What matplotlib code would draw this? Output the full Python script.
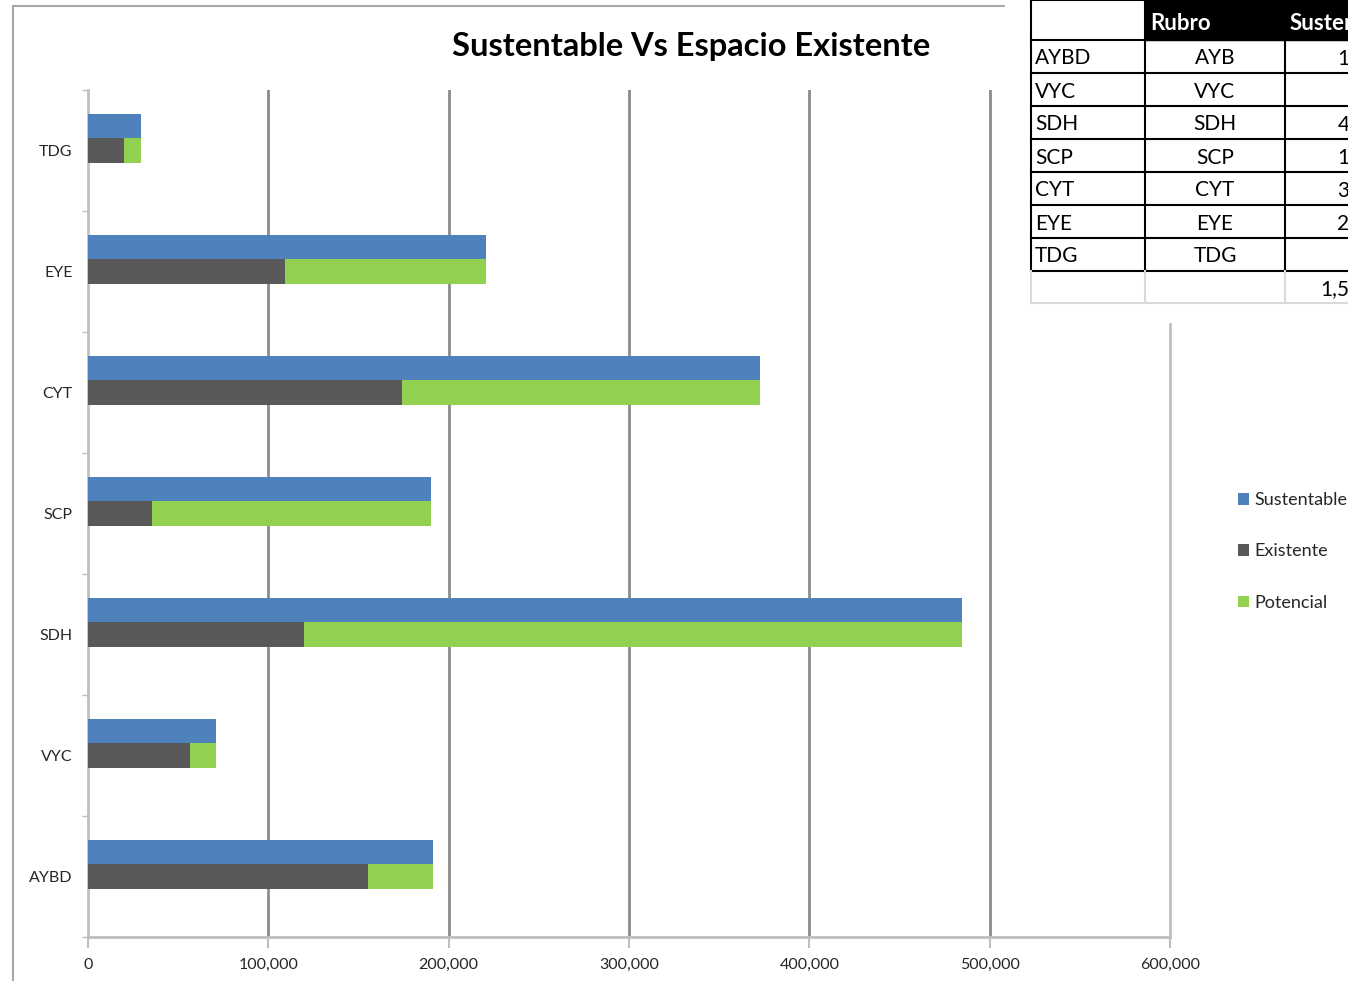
import numpy as np
import matplotlib as mpl
import matplotlib.pyplot as plt
from matplotlib.patches import Rectangle
from matplotlib.lines import Line2D
from matplotlib.ticker import FuncFormatter

plt.rcParams['font.family'] = ['Lato', 'DejaVu Sans']

# data (bottom to top)
rubros = ['AYBD', 'VYC', 'SDH', 'SCP', 'CYT', 'EYE', 'TDG']
rubros_tabla = ['AYB', 'VYC', 'SDH', 'SCP', 'CYT', 'EYE', 'TDG']
sustentable = [191300, 71000, 484700, 190000, 372700, 220700, 29500]
existente = [155000, 56600, 120000, 35500, 174000, 109000, 20000]
potencial = [s - e for s, e in zip(sustentable, existente)]

c_sus = '#4f81bd'
c_exi = '#595959'
c_pot = '#92d050'
c_grid = '#8c8c8c'
c_axis = '#bfbfbf'

W, H = 1348, 981
fig = plt.figure(figsize=(W/100., H/100.), dpi=100)

def fx(px): return px / W
def fy(py): return 1. - py / H

# chart frame
fig.add_artist(Line2D([fx(13), fx(13)], [fy(6), fy(981)], color='#a6a6a6', lw=1.5))
fig.add_artist(Line2D([fx(13), fx(1348)], [fy(6), fy(6)], color='#a6a6a6', lw=1.5))

ax = fig.add_axes([fx(88), fy(937), fx(1170) - fx(88), fy(90) - fy(937)])
y = np.arange(len(rubros))
h = 0.2
ax.barh(y + h, sustentable, height=h, color=c_sus, label='Sustentable', zorder=3)
ax.barh(y, existente, height=h, color=c_exi, label='Existente', zorder=3)
ax.barh(y, potencial, left=existente, height=h, color=c_pot, label='Potencial', zorder=3)

ax.set_xlim(0, 600000)
ax.set_ylim(-0.5, len(rubros) - 0.5)
ax.set_xticks(np.arange(0, 600001, 100000))
ax.xaxis.set_major_formatter(FuncFormatter(lambda v, p: '{:,.0f}'.format(v)))
ax.set_yticks(y)
ax.set_yticklabels(rubros)
ax.set_yticks(np.arange(-0.5, len(rubros), 1.), minor=True)
ax.tick_params(axis='y', which='major', length=0, pad=11, labelsize=11.5, labelcolor='#262626')
ax.tick_params(axis='y', which='minor', length=4, width=1, color=c_axis)
ax.tick_params(axis='x', which='major', length=8, width=1.5, color=c_axis, pad=7, labelsize=11.5, labelcolor='#262626')

for v in np.arange(100000, 500001, 100000):
    ax.axvline(v, color=c_grid, lw=2, zorder=1)
ax.plot([600000, 600000], [-0.5, 4.57], color=c_axis, lw=2, zorder=1, clip_on=False)

for s in ['top', 'right']:
    ax.spines[s].set_visible(False)
for s in ['left', 'bottom']:
    ax.spines[s].set_color(c_axis)
    ax.spines[s].set_linewidth(2)

ax.set_title('Sustentable Vs Espacio Existente', fontsize=23.5, fontweight='bold', x=0.557, y=1.03)

handles, labels = ax.get_legend_handles_labels()
fig.legend(handles, labels, loc='upper left', bbox_to_anchor=(fx(1222), fy(476)), frameon=False,
           fontsize=13, handlelength=0.6, handleheight=0.6, handletextpad=0.3, labelspacing=1.95,
           labelcolor='#262626')

# pasted table in top right corner
fig.add_artist(Rectangle((fx(1005), fy(322)), 1 - fx(1005), fy(0) - fy(322), color='white', zorder=5))
col_x = [1031, 1145, 1285, 1430]
row_y = [0, 40, 73, 106, 139, 172, 205, 238, 271, 303]
fig.add_artist(Rectangle((fx(1145), fy(40)), fx(1430) - fx(1145), fy(0) - fy(40), color='black', zorder=6))
for i, yy in enumerate(row_y):
    col = '#d9d9d9' if i == len(row_y) - 1 else 'black'
    fig.add_artist(Line2D([fx(1031), fx(1430)], [fy(yy), fy(yy)], color=col, lw=1.5, zorder=7))
for xx in col_x:
    fig.add_artist(Line2D([fx(xx), fx(xx)], [fy(0), fy(271)], color='black', lw=1.5, zorder=7))
    fig.add_artist(Line2D([fx(xx), fx(xx)], [fy(271), fy(303)], color='#d9d9d9', lw=1.5, zorder=7))
fig.text(fx(1150), fy(24), 'Rubro', color='white', fontsize=16, fontweight='bold', va='center', zorder=8)
fig.text(fx(1290), fy(24), 'Sustentable', color='white', fontsize=16, fontweight='bold', va='center', zorder=8)

for i, r in enumerate(rubros):
    yc = (row_y[i + 1] + row_y[i + 2]) / 2. + 2
    fig.text(fx(1035), fy(yc), r, fontsize=15, va='center', zorder=8)
    fig.text(fx(1215), fy(yc), rubros_tabla[i], fontsize=15, va='center', ha='center', zorder=8)
    fig.text(fx(1415), fy(yc), '{:,.0f}'.format(sustentable[i]), fontsize=15, va='center', ha='right', zorder=8)
fig.text(fx(1415), fy(289), '{:,.0f}'.format(sum(sustentable)), fontsize=15, va='center', ha='right', zorder=8)

fig.savefig('out.png', dpi=100)
